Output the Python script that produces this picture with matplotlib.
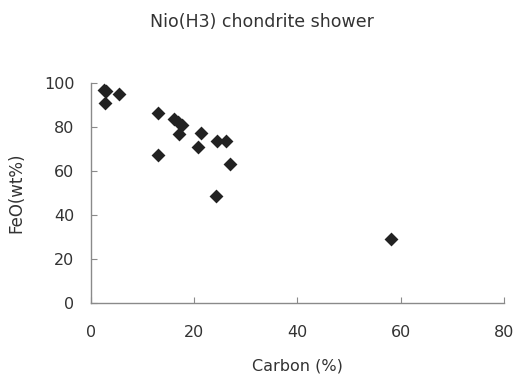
import matplotlib
matplotlib.use("Agg")
import matplotlib.pyplot as plt

# Carbon content vs FeO for fragments of the Nio (H3) chondrite shower
carbon = [2.5, 3.0, 2.7, 5.4, 12.9, 12.9, 16.0, 16.9, 17.6, 17.1,
          21.3, 20.8, 24.5, 26.2, 26.9, 24.2, 58.1]
feo = [97.0, 96.5, 91.0, 95.0, 86.2, 67.3, 83.5, 82.4, 80.9, 76.8,
       77.4, 70.8, 73.6, 73.4, 63.0, 48.8, 29.0]

x_ticks = [0, 20, 40, 60, 80]
y_ticks = [0, 20, 40, 60, 80, 100]

title = "Nio(H3) chondrite shower"
x_label = "Carbon (%)"
y_label = "FeO(wt%)"

text_color = "#333333"
axis_color = "#8a8a8a"

fig = plt.figure(figsize=(5.15, 3.77), dpi=100)
ax = fig.add_axes([0.1767, 0.1963, 0.8019, 0.5837])

ax.scatter(carbon, feo, marker="D", s=50, color="#222222", zorder=3,
           linewidths=0)

ax.set_xlim(0, 80)
ax.set_ylim(0, 100)
ax.set_xticks(x_ticks)
ax.set_yticks(y_ticks)

for side in ("top", "right"):
    ax.spines[side].set_visible(False)
for side in ("left", "bottom"):
    ax.spines[side].set_color(axis_color)
    ax.spines[side].set_linewidth(1.0)

ax.tick_params(axis="both", direction="in", length=4, width=0.8,
               color=axis_color, labelcolor=text_color, labelsize=11.5)
ax.tick_params(axis="x", pad=16)
ax.tick_params(axis="y", pad=12)

fig.text(0.508, 0.942, title, ha="center", va="center", fontsize=12.5,
         color=text_color)
ax.set_xlabel(x_label, fontsize=11.5, color=text_color, labelpad=13)
ax.set_ylabel(y_label, fontsize=12, color=text_color, labelpad=13)

fig.savefig("out.png", dpi=100)
